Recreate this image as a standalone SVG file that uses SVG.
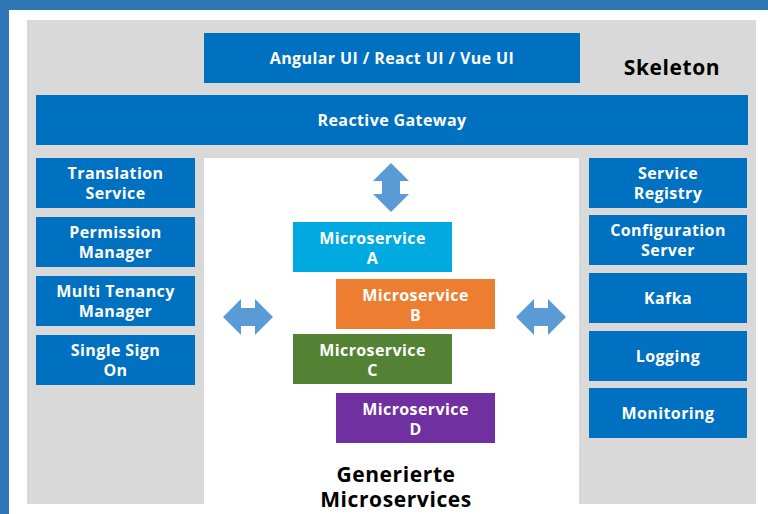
<svg xmlns="http://www.w3.org/2000/svg" width="768" height="514" viewBox="0 0 768 514">
<style>
.box{fill:#0070C0}
.t{font-family:"Open Sans","Liberation Sans",sans-serif;font-weight:700;font-size:16px;letter-spacing:0.4px;fill:#fff;text-anchor:middle}
.h{font-family:"Open Sans","Liberation Sans",sans-serif;font-weight:700;font-size:21px;letter-spacing:0.6px;fill:#000;text-anchor:middle}
.arrow{fill:#5B9BD5}
</style>
<rect x="0" y="0" width="768" height="514" fill="#fff"/>
<rect x="0" y="0" width="768" height="10" fill="#2E75B6"/>
<rect x="0" y="0" width="9" height="514" fill="#2E75B6"/>
<rect x="27" y="20" width="729" height="484" fill="#D9D9D9"/>
<rect x="204" y="158" width="375" height="356" fill="#fff"/>
<text class="h" x="672" y="75">Skeleton</text>
<text class="h" x="396" y="482">Generierte</text>
<text class="h" x="396" y="507">Microservices</text>
<g id="ui"><rect class="box" x="204" y="33" width="376" height="50"/><text class="t" x="392" y="64">Angular UI / React UI / Vue UI</text></g>
<g id="gateway"><rect class="box" x="36" y="95" width="712" height="50"/><text class="t" x="392" y="126">Reactive Gateway</text></g>
<g id="translation"><rect class="box" x="36" y="158" width="159" height="50"/><text class="t" x="115.5" y="179">Translation</text><text class="t" x="115.5" y="199">Service</text></g>
<g id="permission"><rect class="box" x="36" y="217" width="159" height="50"/><text class="t" x="115.5" y="238">Permission</text><text class="t" x="115.5" y="258">Manager</text></g>
<g id="tenancy"><rect class="box" x="36" y="276" width="159" height="50"/><text class="t" x="115.5" y="297">Multi Tenancy</text><text class="t" x="115.5" y="317">Manager</text></g>
<g id="sso"><rect class="box" x="36" y="335" width="159" height="50"/><text class="t" x="115.5" y="356">Single Sign</text><text class="t" x="115.5" y="376">On</text></g>
<g id="registry"><rect class="box" x="589" y="158" width="158" height="50"/><text class="t" x="668" y="179">Service</text><text class="t" x="668" y="199">Registry</text></g>
<g id="config"><rect class="box" x="589" y="215" width="158" height="50"/><text class="t" x="668" y="236">Configuration</text><text class="t" x="668" y="256">Server</text></g>
<g id="kafka"><rect class="box" x="589" y="273" width="158" height="50"/><text class="t" x="668" y="304">Kafka</text></g>
<g id="logging"><rect class="box" x="589" y="331" width="158" height="50"/><text class="t" x="668" y="362">Logging</text></g>
<g id="monitoring"><rect class="box" x="589" y="388" width="158" height="50"/><text class="t" x="668" y="419">Monitoring</text></g>
<g id="msA"><rect x="293" y="222" width="159" height="50" fill="#00A9E0"/><text class="t" x="372.5" y="244">Microservice</text><text class="t" x="372.5" y="264">A</text></g>
<g id="msB"><rect x="336" y="279" width="159" height="50" fill="#ED7D31"/><text class="t" x="415.5" y="301">Microservice</text><text class="t" x="415.5" y="321">B</text></g>
<g id="msC"><rect x="293" y="334" width="159" height="50" fill="#548235"/><text class="t" x="372.5" y="356">Microservice</text><text class="t" x="372.5" y="376">C</text></g>
<g id="msD"><rect x="336" y="393" width="159" height="50" fill="#7030A0"/><text class="t" x="415.5" y="415">Microservice</text><text class="t" x="415.5" y="435">D</text></g>
<g id="connectors">
<polygon class="arrow" points="391,163 409,181 400,181 400,194 409,194 391,212 373,194 382,194 382,181 373,181"/>
<polygon class="arrow" points="223,317 241,299 241,308 255,308 255,299 273,317 255,335 255,326 241,326 241,335"/>
<polygon class="arrow" points="516,317 534,299 534,308 548,308 548,299 566,317 548,335 548,326 534,326 534,335"/>
</g>
</svg>
